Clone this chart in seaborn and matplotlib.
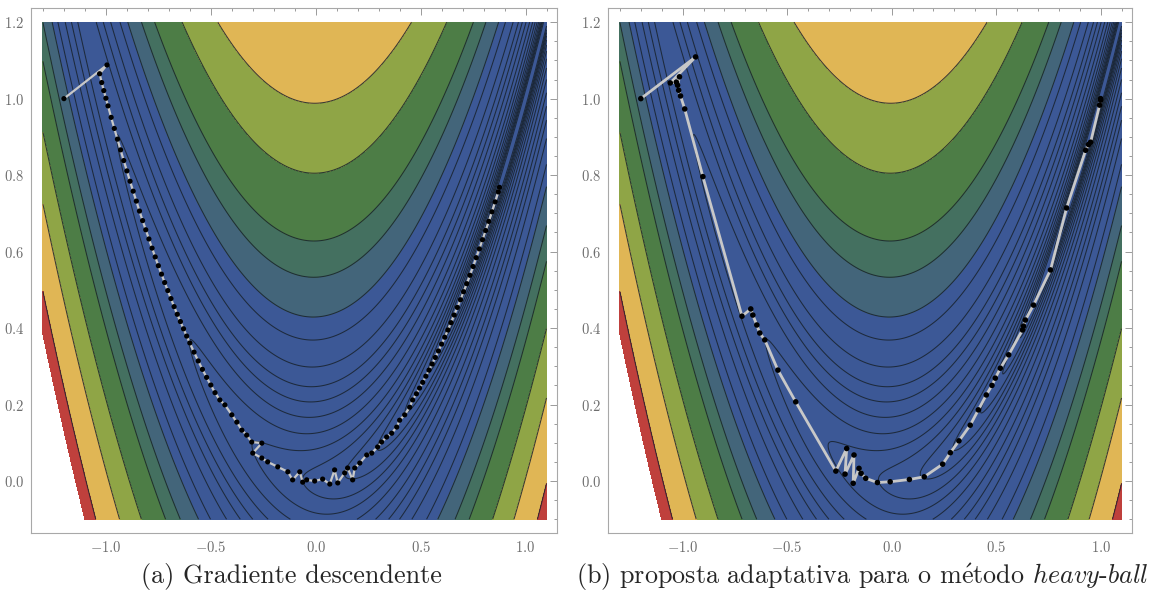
import numpy as np
import matplotlib
matplotlib.use("Agg")
import matplotlib.pyplot as plt
import seaborn as sns

# Rosenbrock surface f(x, y) = (a - x)^2 + b (y - x^2)^2
ros_a, ros_b = 1.0, 100.0
x_range = (-1.3, 1.1)
y_range = (-0.1, 1.2)

# contour levels (log-like spacing), values above the last are left blank
contour_levels = [0.0, 0.05, 0.1, 0.15, 0.22, 0.33, 0.5, 0.745, 1.13, 1.7, 2.57, 3.8,
                  5.3, 7.1, 9.9, 14.6, 19.4, 29.4, 40.4, 65.8, 98.6, 148.0, 176.0]

# (a) gradient descent path
gd_x = [-1.200, -0.995, -1.030, -1.020, -1.010, -1.000, -0.990, -0.975, -0.960, -0.945,
        -0.930, -0.915, -0.900, -0.885, -0.870, -0.855, -0.840, -0.825, -0.810, -0.795,
        -0.780, -0.765, -0.750, -0.735, -0.720, -0.705, -0.690, -0.675, -0.660, -0.645,
        -0.630, -0.615, -0.600, -0.580, -0.560, -0.540, -0.520, -0.500, -0.480, -0.457,
        -0.433, -0.400, -0.376, -0.352, -0.329, -0.305, -0.257, -0.300, -0.257, -0.229,
        -0.181, -0.133, -0.110, -0.076, -0.062, -0.043, -0.005, 0.033, 0.067, 0.090,
        0.105, 0.138, 0.152, 0.176, 0.186, 0.210, 0.243, 0.267, 0.295, 0.314,
        0.338, 0.362, 0.386, 0.400, 0.424, 0.448, 0.462, 0.480, 0.495, 0.510,
        0.525, 0.540, 0.555, 0.570, 0.585, 0.600, 0.615, 0.630, 0.645, 0.660,
        0.675, 0.690, 0.705, 0.720, 0.735, 0.750, 0.765, 0.780, 0.795, 0.810,
        0.825, 0.840, 0.855, 0.870, 0.876]
gd_y = [1.000, 1.088, 1.065, 1.042, 1.021, 1.001, 0.981, 0.951, 0.922, 0.894,
        0.866, 0.838, 0.811, 0.784, 0.758, 0.732, 0.706, 0.681, 0.657, 0.633,
        0.609, 0.586, 0.563, 0.541, 0.519, 0.498, 0.477, 0.456, 0.436, 0.417,
        0.398, 0.379, 0.361, 0.337, 0.314, 0.292, 0.271, 0.251, 0.231, 0.212,
        0.199, 0.173, 0.154, 0.133, 0.120, 0.102, 0.099, 0.073, 0.060, 0.050,
        0.037, 0.024, 0.003, 0.024, -0.003, 0.003, 0.000, 0.005, -0.008, 0.029,
        -0.005, 0.021, 0.034, 0.003, 0.034, 0.047, 0.068, 0.073, 0.089, 0.102,
        0.115, 0.125, 0.141, 0.159, 0.173, 0.193, 0.212, 0.228, 0.243, 0.258,
        0.274, 0.290, 0.306, 0.323, 0.340, 0.358, 0.376, 0.395, 0.414, 0.434,
        0.454, 0.474, 0.495, 0.516, 0.538, 0.561, 0.584, 0.607, 0.631, 0.655,
        0.679, 0.704, 0.730, 0.756, 0.768]

# (b) adaptive heavy-ball path
hb_x = [-1.200, -0.938, -1.059, -1.030, -1.015, -1.024, -1.019, -1.010, -0.990, -0.903,
        -0.716, -0.674, -0.664, -0.645, -0.631, -0.607, -0.544, -0.459, -0.267, -0.215,
        -0.223, -0.180, -0.184, -0.156, -0.146, -0.124, -0.068, -0.007, 0.085, 0.156,
        0.244, 0.281, 0.322, 0.376, 0.415, 0.453, 0.480, 0.496, 0.520, 0.560,
        0.626, 0.631, 0.640, 0.679, 0.760, 0.837, 0.928, 0.942, 0.952, 0.995,
        1.000, 1.000]
hb_y = [1.000, 1.109, 1.041, 1.043, 1.057, 1.035, 1.022, 1.007, 0.973, 0.796,
        0.431, 0.450, 0.434, 0.408, 0.387, 0.369, 0.290, 0.207, 0.026, 0.085,
        0.018, 0.068, -0.006, 0.033, 0.020, 0.007, -0.004, -0.002, 0.004, 0.011,
        0.044, 0.074, 0.105, 0.146, 0.186, 0.225, 0.250, 0.269, 0.295, 0.330,
        0.395, 0.405, 0.421, 0.460, 0.552, 0.714, 0.865, 0.880, 0.886, 0.983,
        0.996, 1.000]

captions = ["(a) Gradiente descendente",
            r"(b) proposta adaptativa para o m$\mathrm{\acute{e}}$todo $\mathit{heavy}$-$\mathit{ball}$"]
x_ticks = [-1.0, -0.5, 0.0, 0.5, 1.0]
y_ticks = [0.0, 0.2, 0.4, 0.6, 0.8, 1.0, 1.2]

sns.set_style("white")
plt.rcParams["font.family"] = ["cmr10", "DejaVu Serif"]
plt.rcParams["mathtext.fontset"] = "cm"
plt.rcParams["axes.unicode_minus"] = True

# band colours (all low bands share the dark blue)
band_cols = ["#3c5896"] * 16 + ["#43657a", "#447060", "#4d7d46", "#8fa546", "#e0b655", "#bf403c"]

gx = np.linspace(x_range[0], x_range[1], 800)
gy = np.linspace(y_range[0], y_range[1], 600)
X, Y = np.meshgrid(gx, gy)
Z = (ros_a - X) ** 2 + ros_b * (Y - X ** 2) ** 2

fig = plt.figure(figsize=(11.57, 5.94), dpi=100)
W, H = 1157, 594
ax_a = fig.add_axes([31 / W, 1 - 533 / H, 526 / W, 525 / H])
ax_b = fig.add_axes([608 / W, 1 - 533 / H, 524 / W, 525 / H])

paths = [(gd_x, gd_y, 14, 1.6), (hb_x, hb_y, 16, 2.0)]
for ax, (px, py, msize, lw), cap, cx in zip([ax_a, ax_b], paths, captions, [291, 862]):
    ax.contourf(X, Y, Z, levels=contour_levels, colors=band_cols)
    ax.contour(X, Y, Z, levels=contour_levels[1:-1], colors="#18222c",
               linewidths=0.75, alpha=0.85)
    sns.lineplot(x=px, y=py, sort=False, estimator=None, color="#c8c8c8",
                 linewidth=lw, ax=ax, zorder=3)
    sns.scatterplot(x=px, y=py, color="black", s=msize, edgecolor="none",
                    ax=ax, zorder=4)

    ax.set_xlim(-1.357, 1.15)
    ax.set_ylim(-0.136, 1.237)
    ax.set_xticks(x_ticks, labels=[rf"${v:.1f}$" for v in x_ticks])
    ax.set_yticks(y_ticks, labels=[rf"${v:.1f}$" for v in y_ticks])
    ax.set_xticks(np.arange(-1.3, 1.15, 0.1), minor=True)
    ax.set_yticks(np.arange(-0.1, 1.24, 0.05), minor=True)
    ax.tick_params(which="both", direction="in", top=True, right=True,
                   labeltop=False, labelright=False, color="#9a9a9a",
                   labelcolor="#6e6e6e", labelsize=10.5, width=0.7)
    ax.tick_params(which="major", length=5, pad=5)
    ax.tick_params(which="minor", length=2.5)
    for sp in ax.spines.values():
        sp.set_color("#a8a8a8")
        sp.set_linewidth(0.8)
    ax.set_xlabel("")
    ax.set_ylabel("")

    fig.text(cx / W, 1 - 577 / H, cap, ha="center", va="center", fontsize=18.8)

fig.savefig("out.png", dpi=100)
plt.close(fig)
